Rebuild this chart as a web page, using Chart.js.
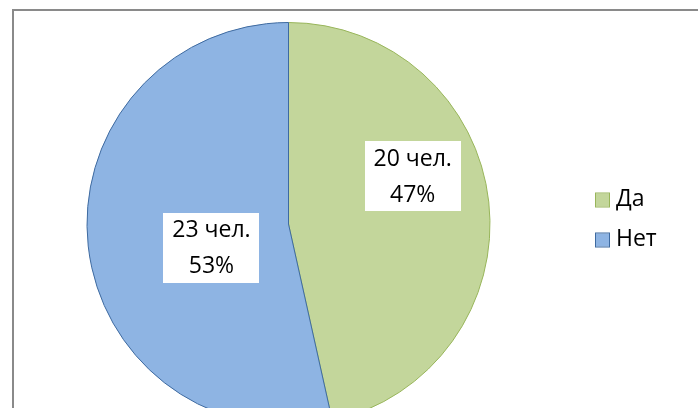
<!DOCTYPE html>
<html>
<head>
<meta charset="utf-8">
<script src="https://cdn.jsdelivr.net/npm/chart.js@4/dist/chart.umd.min.js"></script>
<style>
  html, body { margin: 0; padding: 0; background: #ffffff; overflow: hidden; width: 698px; height: 408px; }
  #frame { position: absolute; left: 12px; top: 9px; width: 720px; height: 440px; border: 2px solid #8a8a8a; box-sizing: border-box; }
  #c { position: absolute; left: 0; top: 0; }
</style>
</head>
<body>
<div id="frame"></div>
<canvas id="c" width="698" height="440"></canvas>
<script>
const categories = ['Да', 'Нет'];
const values = [20, 23];
const unit = 'чел.';
const fillColors = ['#c3d69b', '#8eb4e3'];
const edgeColors = ['#98b55a', '#3e6aa0'];
const FONT = '"Open Sans", "Noto Sans", sans-serif';

const labelPlugin = {
  id: 'boxLabels',
  afterDatasetsDraw(chart) {
    const ctx = chart.ctx;
    const meta = chart.getDatasetMeta(0);
    const total = values.reduce((a, b) => a + b, 0);
    const radFrac = [0.66, 0.40];
    const angOff = [-14.7, -10.7];
    ctx.save();
    ctx.font = '23px ' + FONT;
    ctx.textAlign = 'center';
    ctx.textBaseline = 'middle';
    meta.data.forEach((arc, i) => {
      const p = arc.getProps(['x', 'y', 'startAngle', 'endAngle', 'outerRadius'], true);
      const mid = (p.startAngle + p.endAngle) / 2 + angOff[i] * Math.PI / 180;
      const r = p.outerRadius * radFrac[i];
      const cx = p.x + Math.cos(mid) * r;
      const cy = p.y + Math.sin(mid) * r;
      const w = 96, h = 70;
      ctx.fillStyle = '#ffffff';
      ctx.fillRect(Math.round(cx - w / 2), Math.round(cy - h / 2), w, h);
      ctx.fillStyle = '#000000';
      const pct = Math.round(values[i] / total * 100) + '%';
      ctx.fillText(values[i] + ' ' + unit, cx, cy - 17);
      ctx.fillText(pct, cx, cy + 19);
    });
    ctx.restore();
  },
  afterDraw(chart) {
    const ctx = chart.ctx;
    ctx.save();
    ctx.font = '23px ' + FONT;
    ctx.textAlign = 'left';
    ctx.textBaseline = 'middle';
    const rows = [199.5, 239.5];
    categories.forEach((name, i) => {
      const y = rows[i];
      ctx.fillStyle = fillColors[i];
      ctx.fillRect(596, y - 6, 13, 13);
      ctx.strokeStyle = edgeColors[i];
      ctx.lineWidth = 1;
      ctx.strokeRect(595.5, y - 6.5, 14, 14);
      ctx.fillStyle = '#000000';
      ctx.fillText(name, 616, y);
    });
    ctx.restore();
  }
};

new Chart(document.getElementById('c'), {
  type: 'pie',
  data: {
    labels: categories,
    datasets: [{
      data: values,
      backgroundColor: fillColors,
      borderColor: edgeColors,
      borderWidth: 1,
      hoverOffset: 0,
      offset: 0
    }]
  },
  options: {
    responsive: false,
    animation: false,
    devicePixelRatio: 1,
    layout: { padding: { left: 86, right: 207, top: 22, bottom: 14 } },
    plugins: {
      legend: { display: false },
      tooltip: { enabled: false }
    }
  },
  plugins: [labelPlugin]
});
</script>
</body>
</html>
